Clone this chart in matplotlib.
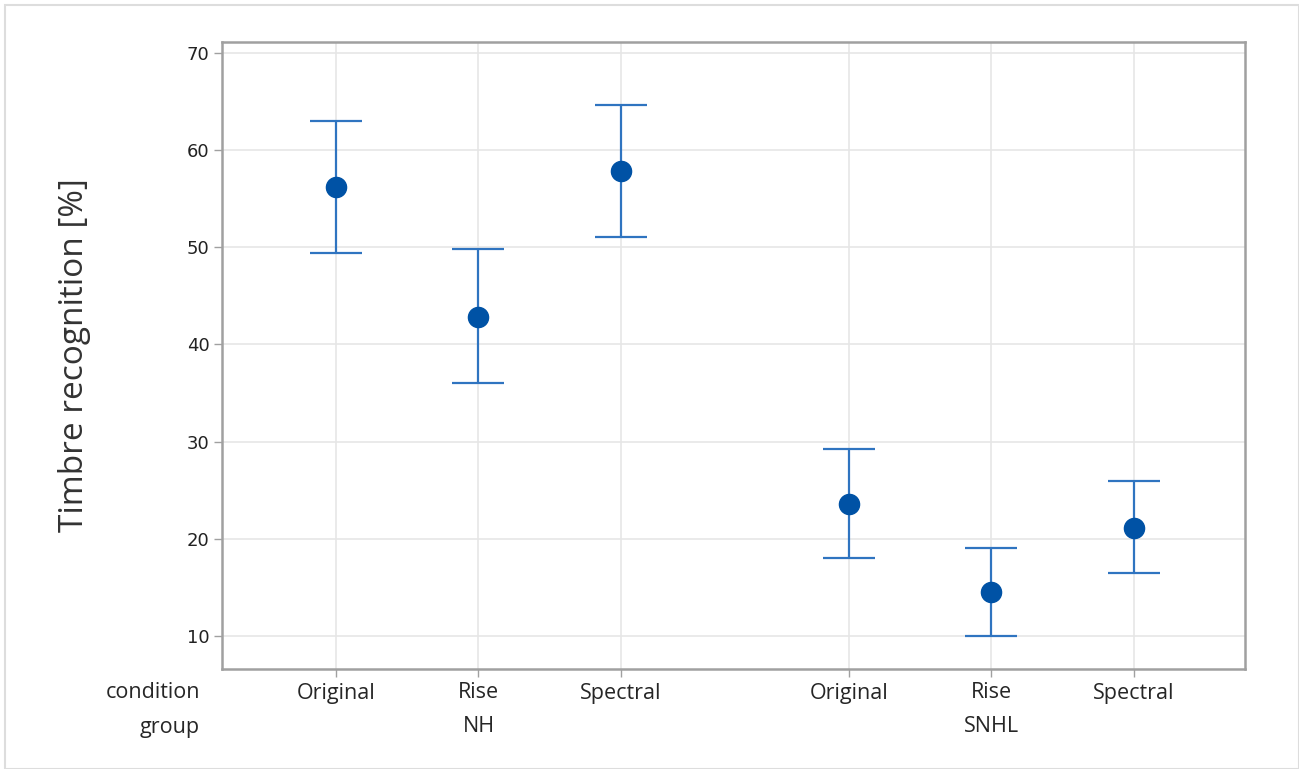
import matplotlib
matplotlib.use('Agg')
import matplotlib.pyplot as plt
from matplotlib.patches import Rectangle

# interval plot values
groups = ['NH', 'SNHL']
conditions = ['Original', 'Rise', 'Spectral']
means = [56.2, 42.8, 57.8, 23.6, 14.5, 21.1]
upper = [63.0, 49.8, 64.6, 29.2, 19.05, 25.9]
lower = [49.4, 36.0, 51.0, 18.0, 10.0, 16.5]
yticks = [10, 20, 30, 40, 50, 60, 70]

W, H = 1299, 769
fig = plt.figure(figsize=(W / 100, H / 100), dpi=100)
ax = fig.add_axes([222 / W, 1 - 669 / H, (1245 - 222) / W, (669 - 42) / H])

# positions: 3 conditions per group, wider gap between groups
gap = 1.6
xs = []
for g in range(len(groups)):
    for c in range(len(conditions)):
        xs.append(g * (len(conditions) - 1 + gap) + c)

line_col = '#2F74C0'
dot_col = '#0052A5'
for x, m, lo, hi in zip(xs, means, lower, upper):
    ax.errorbar([x], [m], yerr=[[m - lo], [hi - m]], fmt='none', ecolor=line_col,
                elinewidth=1.6, capsize=19, capthick=1.6, zorder=3)
ax.plot(xs, means, 'o', color=dot_col, markersize=14.5, linestyle='none', zorder=4)

ax.set_xlim(-0.8, xs[-1] + 0.78)
ax.set_ylim(6.6, 71.1)
ax.set_yticks(yticks)
ax.set_xticks(xs)
ax.set_xticklabels([])
ax.grid(True, color='#E6E6E6', linewidth=1.2)
ax.set_axisbelow(True)
for s in ax.spines.values():
    s.set_color('#A0A0A0')
    s.set_linewidth(1.8)
ax.tick_params(axis='both', direction='out', length=6, color='#A0A0A0', width=1)
ax.tick_params(axis='y', labelsize=13, labelcolor='#222222', pad=3)
for lab in ax.get_yticklabels():
    lab.set_family('DejaVu Sans')

ax.set_ylabel('Timbre recognition [%]', fontsize=24, family='Open Sans',
              color='#333333')
ax.yaxis.set_label_coords((75 - 222) / (1245 - 222), 0.5)
ax.yaxis.label.set_va('center')

# two-row categorical axis labels (condition / group)
lab_font = dict(family='Open Sans', fontsize=15.5, color='#262626')
trans = ax.get_xaxis_transform()
row1 = -24 / 627
row2 = -58 / 627
for i, x in enumerate(xs):
    ax.text(x, row1, conditions[i % len(conditions)], transform=trans,
            ha='center', va='center', **lab_font)
for g in range(len(groups)):
    mid = xs[g * len(conditions) + 1]
    ax.text(mid, row2, groups[g], transform=trans, ha='center', va='center', **lab_font)
fig.text(200 / W, 1 - 693 / H, 'condition', ha='right', va='center', **lab_font)
fig.text(200 / W, 1 - 727 / H, 'group', ha='right', va='center', **lab_font)

fig.patches.append(Rectangle((5 / W, 0), 1 - 5 / W, 1 - 5 / H, transform=fig.transFigure,
                             fill=False, edgecolor='#DDDDDD', linewidth=1.5))

fig.savefig('out.png', dpi=100)
